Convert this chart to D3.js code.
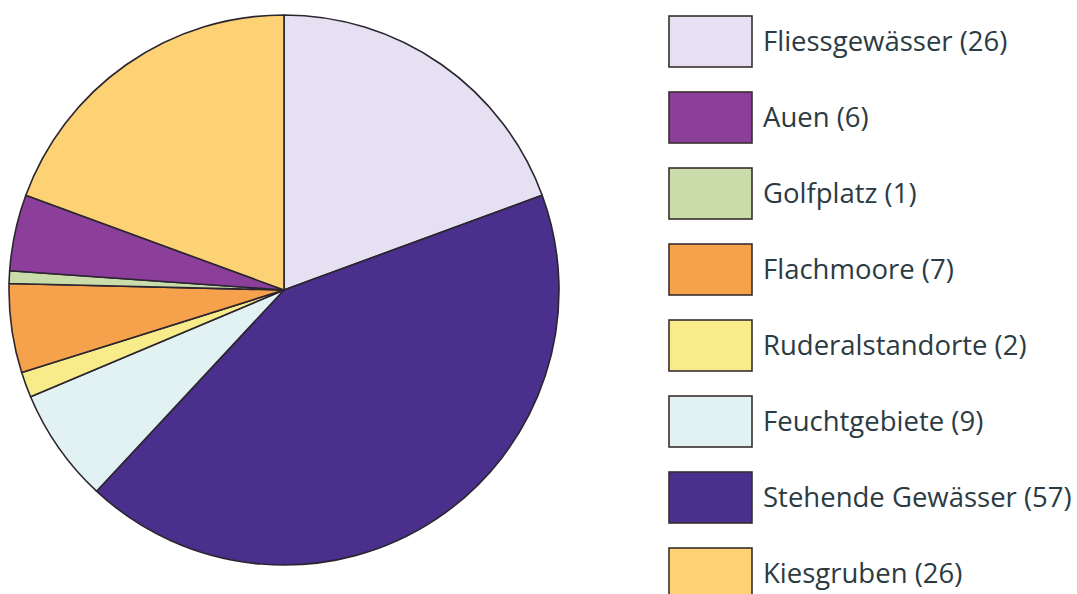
<!DOCTYPE html>
<html>
<head>
<meta charset="utf-8">
<script src="https://cdn.jsdelivr.net/npm/d3@7"></script>
<style>
  body { margin: 0; background: #fff; }
  svg { display: block; }
</style>
</head>
<body>
<svg id="chart" width="1077" height="594"></svg>
<script>
// data, clockwise from 12 o'clock
var categories = ["Fliessgewässer", "Stehende Gewässer", "Feuchtgebiete", "Ruderalstandorte",
                  "Flachmoore", "Golfplatz", "Auen", "Kiesgruben"];
var values = [26, 57, 9, 2, 7, 1, 6, 26];
var colors = ["#e6e0f3", "#4b2f8c", "#e2f2f2", "#f8ec8a", "#f6a24c", "#c9dcaa", "#8b3f9b", "#fdd274"];
// legend order (top to bottom)
var legendOrder = ["Fliessgewässer", "Auen", "Golfplatz", "Flachmoore", "Ruderalstandorte",
                   "Feuchtgebiete", "Stehende Gewässer", "Kiesgruben"];

var svg = d3.select("#chart");

var cx = 284, cy = 290, radius = 275;

var color = d3.scaleOrdinal().domain(categories).range(colors);

var data = categories.map(function(c, i) { return { name: c, value: values[i] }; });

var pie = d3.pie()
    .sort(null)
    .value(function(d) { return d.value; });

var arc = d3.arc()
    .innerRadius(0)
    .outerRadius(radius);

var g = svg.append("g")
    .attr("transform", "translate(" + cx + "," + cy + ")");

g.selectAll("path")
  .data(pie(data))
  .enter().append("path")
    .attr("d", arc)
    .attr("fill", function(d) { return color(d.data.name); })
    .attr("stroke", "#2b2530")
    .attr("stroke-width", 1.6)
    .attr("stroke-linejoin", "round");

// legend
var lookup = {};
data.forEach(function(d) { lookup[d.name] = d.value; });

var legend = svg.append("g").attr("transform", "translate(669,16)");

var item = legend.selectAll("g")
  .data(legendOrder)
  .enter().append("g")
    .attr("transform", function(d, i) { return "translate(0," + (i * 76) + ")"; });

item.append("rect")
    .attr("width", 83)
    .attr("height", 51)
    .attr("fill", function(d) { return color(d); })
    .attr("stroke", "#3a2e2e")
    .attr("stroke-width", 1.6);

item.append("text")
    .attr("x", 94)
    .attr("y", 35)
    .attr("font-family", "'Open Sans', sans-serif")
    .attr("font-size", 27.5)
    .attr("fill", "#2c3b42")
    .text(function(d) { return d + " (" + lookup[d] + ")"; });
</script>
</body>
</html>
